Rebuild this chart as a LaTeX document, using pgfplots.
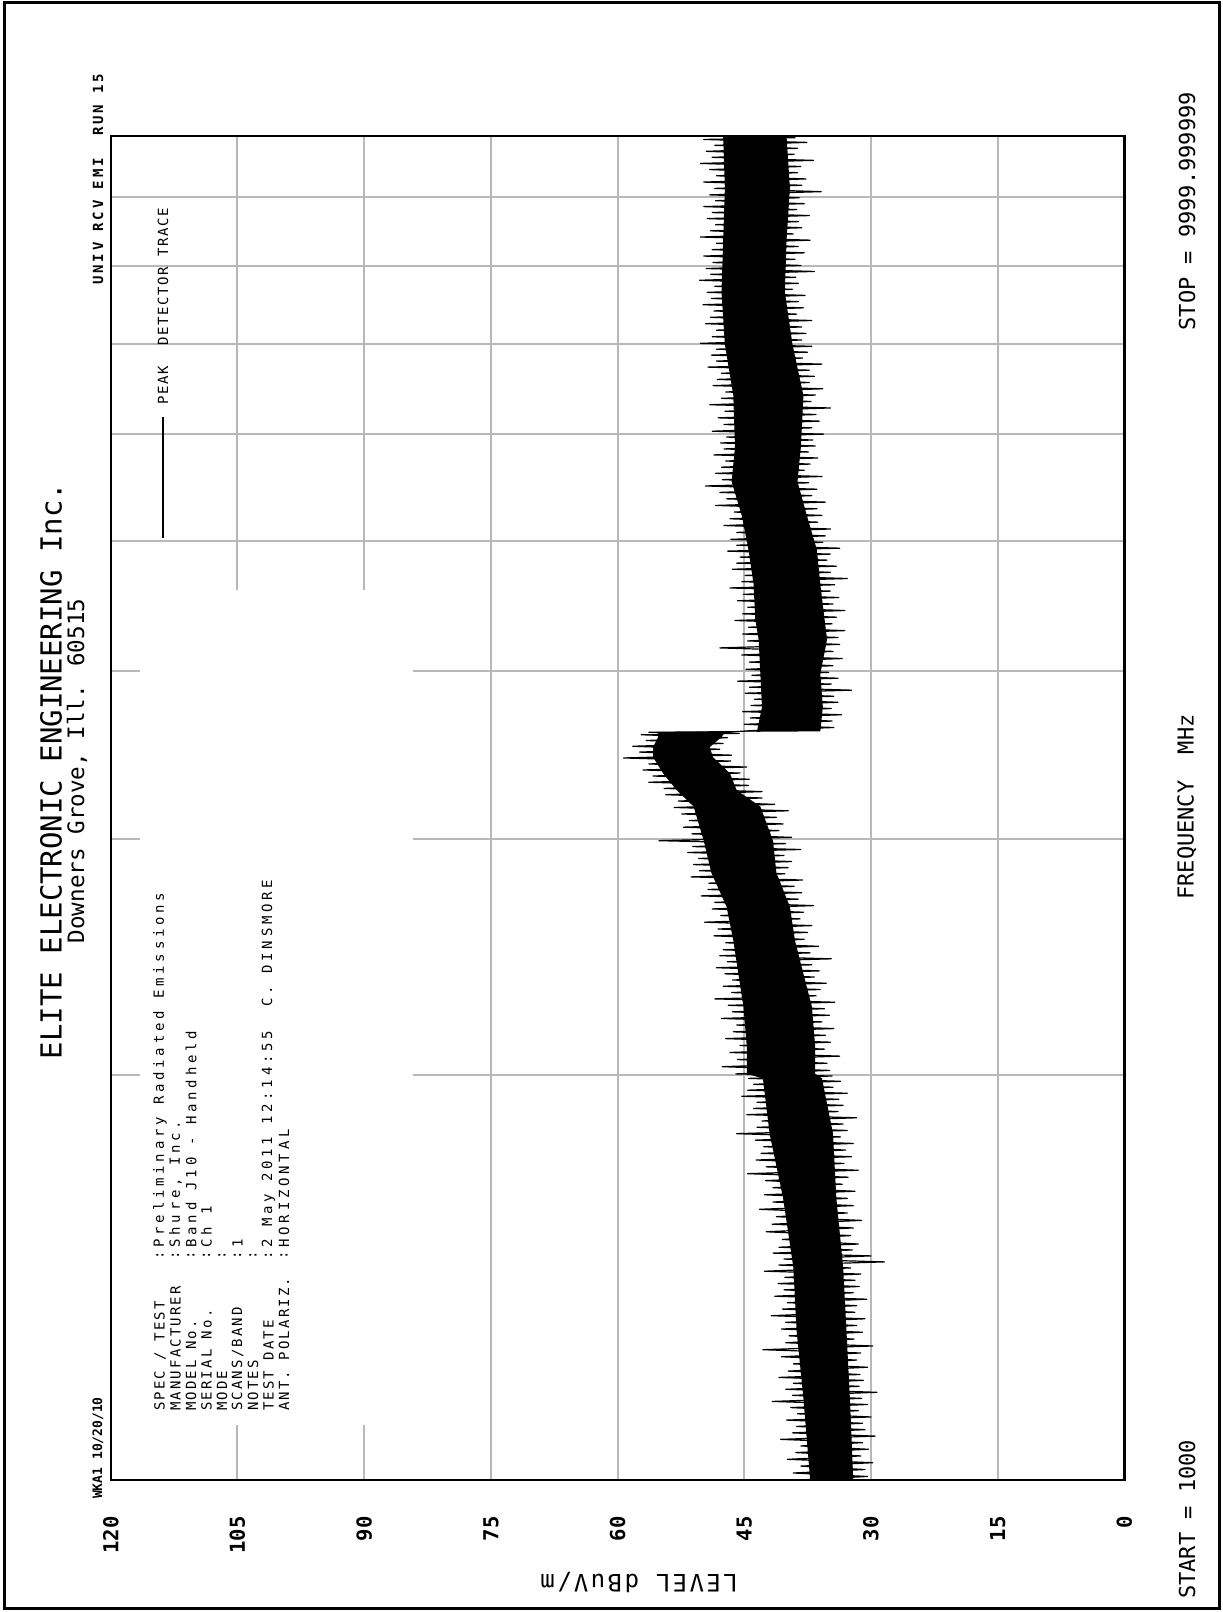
\documentclass[border=0pt]{standalone}
\usepackage{pgfplots}
\usepackage{pgfplotstable}
\pgfplotsset{compat=1.18}
\usepackage{fontspec}
\setmainfont{DejaVu Sans Mono}
\newfontfamily\valfont{DejaVu Sans Mono}[LetterSpace=27]
\newfontfamily\labfont{DejaVu Sans Mono}[LetterSpace=15]
\newfontfamily\hdfont{DejaVu Sans Mono}[LetterSpace=20]
\newfontfamily\legfont{DejaVu Sans Mono}[LetterSpace=12]
\newfontfamily\ylabfont{DejaVu Sans Mono}[LetterSpace=10]
% solid core of the peak detector trace (upper edge ascending, lower edge descending)
\pgfplotstableread{
f L
1000 37.2
1150 38.0
1290 38.8
1440 39.2
1620 40.4
1810 42.0
1990 42.8
2005 44.7
2100 44.7
2250 45.1
2380 45.7
2520 46.3
2670 47.1
2830 48.9
2990 49.8
3170 51.0
3260 53.0
3355 54.6
3450 55.8
3510 55.8
3570 55.2
3602 55.2
3606 43.5
3760 42.9
3980 43.1
4220 43.3
4370 43.7
4640 43.9
4920 44.5
5220 45.3
5530 46.5
5870 46.1
6410 46.3
7000 47.3
7660 47.7
8360 47.5
9140 47.3
10000 47.5
10000 40.0
9140 39.6
8360 40.0
7660 40.2
7000 39.3
6410 38.0
5870 38.3
5530 38.7
5220 37.6
4920 36.4
4640 36.0
4370 35.5
4220 35.2
3980 36.0
3760 35.7
3606 36.0
3602 47.3
3570 47.7
3510 49.1
3450 48.7
3355 46.7
3260 45.9
3170 43.1
2990 41.6
2830 41.2
2670 39.6
2520 39.0
2380 38.0
2250 37.0
2100 36.6
2005 36.6
1990 35.8
1810 34.5
1620 34.1
1440 33.3
1290 32.9
1150 32.5
1000 32.1
}\core
% peak detector trace: successive sweep points swinging between high and low readings
\pgfplotstableread{
f L
1000 38.4
1006 30.4
1012 39.2
1018 30.7
1024 38.3
1030 29.8
1036 39.9
1042 31.2
1048 38.9
1054 30.3
1060 38.3
1066 31.0
1072 40.7
1078 29.5
1084 39.3
1090 30.7
1096 38.8
1102 31.0
1108 40.0
1114 30.0
1120 38.7
1126 31.5
1132 39.5
1138 30.4
1144 41.7
1150 31.1
1156 39.3
1162 29.3
1168 40.1
1174 31.4
1180 39.2
1186 30.9
1192 40.9
1198 31.3
1205 39.8
1213 30.4
1220 39.2
1228 31.7
1235 40.6
1243 31.2
1250 42.8
1258 29.8
1265 40.1
1273 32.0
1280 39.7
1288 31.0
1295 40.6
1303 31.7
1310 40.1
1318 30.7
1325 41.8
1333 31.9
1340 40.5
1348 31.7
1355 39.9
1363 30.5
1370 41.4
1378 32.1
1385 40.3
1393 31.4
1400 41.0
1408 31.9
1415 40.2
1423 31.2
1430 42.6
1438 32.4
1445 40.9
1453 28.4
1460 40.3
1468 30.0
1475 41.6
1483 32.2
1490 40.9
1498 31.5
1510 40.5
1520 32.4
1530 42.4
1540 32.1
1550 41.7
1560 31.1
1570 41.2
1580 32.8
1590 43.2
1600 32.1
1610 41.6
1620 32.8
1630 42.6
1640 31.9
1650 41.6
1660 33.4
1670 42.5
1680 32.7
1690 44.6
1700 31.5
1710 42.4
1720 33.2
1730 43.6
1740 32.3
1750 43.0
1760 33.0
1770 42.7
1780 32.1
1790 43.7
1800 33.6
1810 45.9
1820 32.8
1830 43.5
1840 33.3
1850 42.9
1860 31.7
1870 44.7
1880 33.9
1890 43.9
1900 33.3
1910 43.5
1920 33.8
1930 45.3
1940 32.8
1950 44.6
1960 34.5
1970 43.9
1980 33.6
1990 44.5
1998 34.6
2005 46.0
2017 34.9
2030 47.6
2042 35.2
2055 45.8
2067 33.7
2080 46.7
2092 35.5
2105 45.5
2117 34.8
2130 47.2
2142 35.4
2155 46.3
2167 34.4
2180 45.9
2192 35.8
2205 47.7
2217 34.9
2230 46.4
2242 35.5
2255 46.9
2267 34.3
2280 48.5
2292 36.5
2305 46.5
2317 36.0
2330 47.5
2342 35.3
2355 46.4
2367 36.7
2380 47.3
2392 36.1
2405 48.3
2417 37.0
2430 47.0
2442 34.7
2455 47.9
2467 37.2
2480 47.5
2495 36.2
2510 47.2
2525 37.9
2540 48.6
2555 37.5
2570 48.1
2585 37.0
2600 49.7
2615 38.4
2630 47.8
2645 38.0
2660 48.8
2675 36.8
2690 48.5
2705 38.6
2720 50.1
2735 38.2
2750 49.3
2765 39.1
2780 49.2
2795 38.1
2810 51.3
2825 40.2
2840 50.3
2855 39.8
2870 51.0
2885 39.4
2900 50.4
2915 40.3
2930 51.7
2945 38.3
2960 51.1
2975 40.1
2990 55.1
3007 39.4
3025 51.2
3042 40.9
3060 52.2
3077 40.4
3095 51.5
3112 41.2
3130 52.4
3147 39.8
3165 53.3
3182 41.4
3200 52.8
3217 42.9
3235 54.3
3252 42.9
3270 54.5
3287 44.5
3305 56.3
3322 44.4
3340 55.8
3357 45.5
3375 57.0
3392 44.7
3410 56.3
3427 46.6
3445 59.3
3462 46.5
3480 57.4
3497 47.9
3515 58.2
3532 47.5
3550 56.6
3567 47.0
3585 57.2
3593 45.6
3600 56.3
3604 46.1
3610 44.3
3630 34.4
3650 45.0
3670 34.6
3690 44.3
3710 33.5
3730 45.2
3750 34.7
3770 44.2
3790 33.9
3810 43.8
3830 34.4
3850 44.9
3870 32.3
3890 44.4
3910 34.7
3930 45.8
3950 33.9
3970 44.1
3990 35.0
4010 44.8
4035 34.5
4060 44.4
4085 33.4
4110 45.3
4135 34.5
4160 47.9
4185 33.7
4210 44.6
4235 33.9
4260 45.2
4285 33.1
4310 44.5
4335 34.6
4360 46.1
4385 34.1
4410 45.2
4435 33.1
4460 44.6
4485 34.5
4510 45.8
4535 33.8
4560 45.1
4585 34.8
4610 46.7
4635 34.3
4660 45.3
4685 32.8
4710 44.9
4735 34.8
4760 46.4
4785 34.1
4810 45.9
4835 35.2
4860 45.5
4885 34.8
4910 47.0
4935 33.7
4960 45.9
4985 35.7
5010 46.6
5040 35.4
5070 45.9
5100 34.8
5130 47.4
5160 36.3
5190 46.7
5220 35.8
5250 46.2
5280 36.4
5310 48.4
5340 35.4
5370 47.1
5400 37.0
5430 47.9
5460 36.4
5490 49.6
5520 37.4
5550 47.6
5580 35.8
5610 48.4
5640 37.9
5670 47.7
5700 37.2
5730 47.2
5760 36.3
5790 48.6
5820 37.4
5850 47.4
5880 36.6
5910 47.8
5940 36.9
5970 47.1
6000 35.6
6030 48.8
6065 37.0
6100 47.4
6135 36.1
6170 48.1
6205 36.5
6240 47.3
6275 34.8
6310 49.1
6345 37.1
6380 47.7
6415 36.6
6450 47.2
6485 35.7
6520 48.7
6555 37.3
6590 48.2
6625 36.7
6660 47.7
6695 37.3
6730 49.3
6765 35.8
6800 48.3
6835 38.1
6870 48.9
6905 37.5
6940 48.3
6975 37.0
7010 50.2
7050 38.2
7090 48.8
7130 37.7
7170 48.3
7210 38.2
7250 49.6
7290 37.0
7330 49.0
7370 38.8
7410 48.6
7450 38.0
7490 49.9
7530 38.6
7570 48.9
7610 37.8
7650 49.4
7690 39.3
7730 48.5
7770 38.6
7810 50.3
7850 38.9
7890 49.0
7930 36.7
7970 49.5
8010 38.3
8050 48.7
8095 39.0
8140 49.8
8185 37.9
8230 48.8
8275 38.6
8320 48.3
8365 37.2
8410 50.2
8455 39.2
8500 49.0
8545 38.2
8590 48.4
8635 38.6
8680 49.4
8725 37.3
8770 48.8
8815 38.8
8860 49.8
8905 37.9
8950 48.4
8995 38.5
9040 49.1
9090 35.9
9140 48.5
9190 38.2
9240 49.8
9290 37.7
9340 48.3
9390 38.7
9440 49.1
9490 38.3
9540 50.2
9590 36.8
9640 48.8
9690 39.1
9740 49.5
9790 38.7
9840 48.5
9890 37.6
9940 49.8
9970 39.0
10000 48.9
}\trace

\begin{document}
\begin{tikzpicture}[x=0.5pt,y=0.5pt]
\useasboundingbox (0,0) rectangle (1222,1612);
\draw[line width=1.5pt] (4,3) rectangle (1219,1609);
\begin{axis}[
  at={(55.4pt,66pt)}, anchor=south west,
  scale only axis, width=506.8pt, height=672pt,
  xmin=0, xmax=120, x dir=reverse,
  ymode=log, ymin=1000, ymax=10000,
  xtick={0,15,30,45,60,75,90,105,120},
  xticklabels={0,15,30,45,60,75,90,105,120},
  ytick={2000,3000,4000,5000,6000,7000,8000,9000},
  yticklabels={},
  xmajorgrids=true, ymajorgrids=true,
  major grid style={draw=black!28, line width=1pt},
  axis line style={line width=1.2pt},
  major tick length=0pt, minor tick length=0pt,
  xticklabel style={rotate=90, anchor=east, inner sep=0pt,
     font=\bfseries\fontsize{10.3pt}{12pt}\selectfont},
  xticklabel shift=18pt,
]
\fill[white] (axis cs:116.5,1099) rectangle (axis cs:84.2,4595);
\addplot[fill=black, draw=none] table[x=L, y=f] {\core};
\addplot[black, line width=0.6pt, line join=round] table[x=L, y=f] {\trace};
\end{axis}

% header
\node[rotate=90, font=\fontsize{14.5pt}{16pt}\selectfont] at (51,841) {ELITE ELECTRONIC ENGINEERING Inc.};
\node[rotate=90, font=\fontsize{11.3pt}{13pt}\selectfont] at (77,841) {Downers Grove, Ill. 60515};
\node[rotate=90, anchor=west, font=\bfseries\fontsize{6.5pt}{7pt}\selectfont] at (98,106) {WKA1 10/20/10};
\node[rotate=90, anchor=east, font=\hdfont\bfseries\fontsize{7pt}{8pt}\selectfont] at (98,1545) {UNIV RCV EMI\ \ RUN 15};

% info block
\begin{scope}[every node/.style={rotate=90, anchor=west, inner sep=0pt, font=\labfont\fontsize{7pt}{8pt}\selectfont}]
\node at (160,201) {SPEC / TEST};
\node at (175.5,201) {MANUFACTURER};
\node at (191,201) {MODEL No.};
\node at (206.5,201) {SERIAL No.};
\node at (222,201) {MODE};
\node at (237.5,201) {SCANS/BAND};
\node at (253,201) {NOTES};
\node at (268.5,201) {TEST DATE};
\node at (284,201) {ANT. POLARIZ.};
\node at (160,352) {:};
\node at (175.5,352) {:};
\node at (191,352) {:};
\node at (206.5,352) {:};
\node at (222,352) {:};
\node at (237.5,352) {:};
\node at (253,352) {:};
\node at (268.5,352) {:};
\node at (284,352) {:};
\end{scope}
\begin{scope}[every node/.style={rotate=90, anchor=west, inner sep=0pt, font=\valfont\fontsize{7pt}{8pt}\selectfont}]
\node at (160,364) {Preliminary Radiated Emissions};
\node at (175.5,364) {Shure, Inc.};
\node at (191,364) {Band J10 - Handheld};
\node at (206.5,364) {Ch 1};
\node at (237.5,364) {1};
\node at (268.5,364) {2 May 2011 12:14:55\ \ C. DINSMORE};
\node at (284,364) {HORIZONTAL};
\end{scope}

% legend
\draw[line width=1.3pt] (163,1074) -- (163,1195);
\node[rotate=90, anchor=west, font=\legfont\fontsize{7pt}{8pt}\selectfont] at (163,1200) {PEAK\ \ DETECTOR TRACE};

% axis titles
\node[rotate=180, font=\ylabfont\fontsize{12pt}{14pt}\selectfont] at (639,29) {LEVEL dBuV/m};
\node[rotate=90, anchor=west, font=\fontsize{11pt}{13pt}\selectfont] at (1187,6) {START = 1000};
\node[rotate=90, font=\fontsize{11pt}{13pt}\selectfont] at (1187,805) {FREQUENCY\ \ MHz};
\node[rotate=90, anchor=east, font=\fontsize{11pt}{13pt}\selectfont] at (1187,1527) {STOP = 9999.999999};
\end{tikzpicture}
\end{document}
